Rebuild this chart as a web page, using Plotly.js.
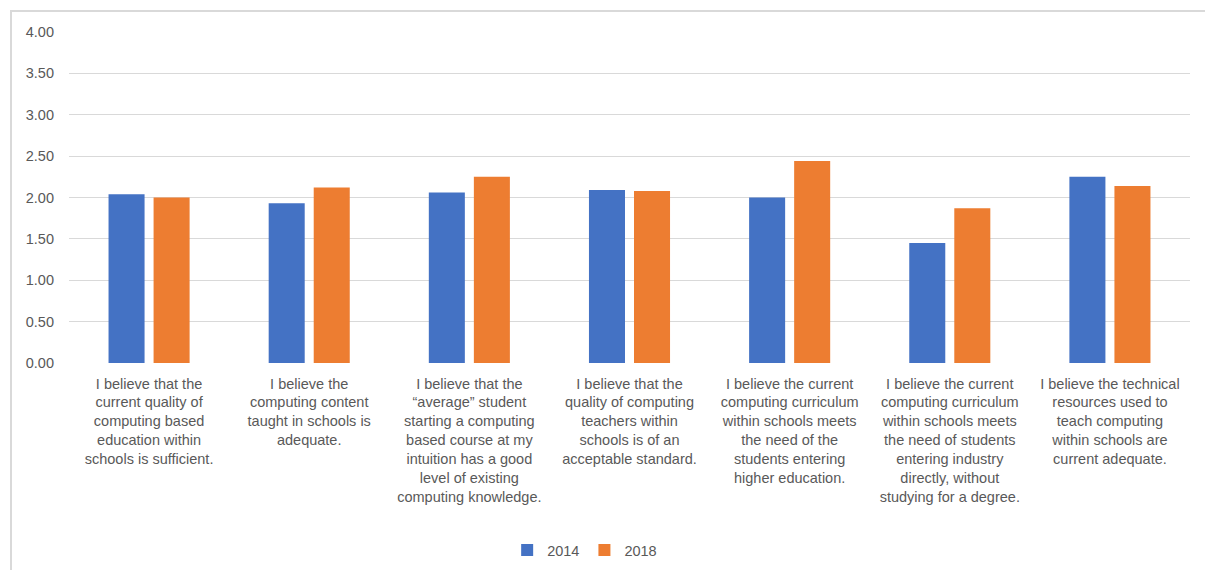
<!DOCTYPE html>
<html>
<head>
<meta charset="utf-8">
<script src="https://cdn.plot.ly/plotly-3.0.1.min.js"></script>
<style>
  html, body { margin: 0; padding: 0; background: #fff; }
  #wrap { position: relative; width: 1205px; height: 570px; }
  #chart { width: 1205px; height: 570px; }
  #frame { position: absolute; left: 10px; top: 10px; width: 1195px; height: 560px;
           border-top: 2px solid #d9d9d9; border-left: 2px solid #d9d9d9; pointer-events: none; box-sizing: border-box; }
</style>
</head>
<body>
<div id="wrap">
  <div id="chart"></div>
  <div id="frame"></div>
</div>
<script>
const categories = [
  "I believe that the<br>current quality of<br>computing based<br>education within<br>schools is sufficient.",
  "I believe the<br>computing content<br>taught in schools is<br>adequate.",
  "I believe that the<br>“average” student<br>starting a computing<br>based course at my<br>intuition has a good<br>level of existing<br>computing knowledge.",
  "I believe that the<br>quality of computing<br>teachers within<br>schools is of an<br>acceptable standard.",
  "I believe the current<br>computing curriculum<br>within schools meets<br>the need of the<br>students entering<br>higher education.",
  "I believe the current<br>computing curriculum<br>within schools meets<br>the need of students<br>entering industry<br>directly, without<br>studying for a degree.",
  "I believe the technical<br>resources used to<br>teach computing<br>within schools are<br>current adequate."
];
const values2014 = [2.04, 1.93, 2.06, 2.09, 2.00, 1.45, 2.25];
const values2018 = [2.00, 2.12, 2.25, 2.08, 2.44, 1.87, 2.14];
const yTicks = [0, 0.5, 1, 1.5, 2, 2.5, 3, 3.5, 4];
const yTickText = ["0.00", "0.50", "1.00", "1.50", "2.00", "2.50", "3.00", "3.50", "4.00"];

const idx = categories.map((_, i) => i);

const traces = [
  { type: "bar", name: "2014", x: idx, y: values2014, marker: { color: "#4472c4" } },
  { type: "bar", name: "2018", x: idx, y: values2018, marker: { color: "#ed7d31" } }
];

const layout = {
  width: 1205, height: 570,
  margin: { l: 69, r: 15, t: 32, b: 207, autoexpand: false },
  paper_bgcolor: "#ffffff", plot_bgcolor: "#ffffff",
  barmode: "group", bargap: 0.4375, bargroupgap: 0.2,
  font: { family: "Liberation Sans, Arial, sans-serif", size: 14, color: "#595959" },
  showlegend: true,
  legend: { orientation: "h", x: 0.46, xanchor: "center", y: -0.565, yanchor: "middle",
            font: { size: 14.5, color: "#595959" }, traceorder: "normal", itemwidth: 30 },
  xaxis: { tickmode: "array", tickvals: idx, ticktext: categories, range: [-0.5, 6.5],
           showgrid: false, zeroline: false, showline: false, ticks: "", tickangle: 0,
           automargin: false, ticklabelstandoff: 10,
           tickfont: { size: 14.5, color: "#595959" } },
  yaxis: { range: [0, 4], tickmode: "array", tickvals: yTicks, ticktext: yTickText,
           showgrid: true, gridcolor: "#d9d9d9", gridwidth: 1, zeroline: false, showline: false,
           automargin: false, ticks: "", ticklabelstandoff: 14, tickfont: { size: 14.5, color: "#595959" } }
};

Plotly.newPlot("chart", traces, layout, { staticPlot: true, displayModeBar: false });
</script>
</body>
</html>
